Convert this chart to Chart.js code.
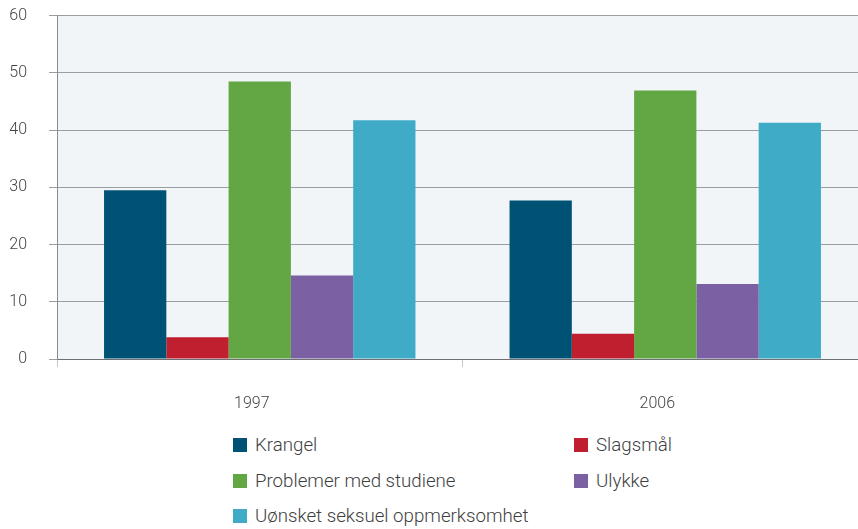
<!DOCTYPE html>
<html>
<head>
<meta charset="utf-8">
<script src="https://cdn.jsdelivr.net/npm/chart.js@4"></script>
<style>
    html, body { margin: 0; padding: 0; background: #fff; overflow: hidden; }
    #wrap { position: relative; width: 858px; height: 529px; overflow: hidden; }
    #box { position: absolute; left: 0; top: -16px; width: 868px; height: 436px; }
    #legend {
        position: absolute; left: 233px; top: 436px;
        display: grid; grid-template-columns: 341px 200px; grid-auto-rows: 35.5px;
        font-family: Roboto, "Noto Sans", sans-serif; font-size: 18.7px; font-weight: 300; color: #3e3e3e;
    }
    .item { display: flex; align-items: center; height: 18px; }
    .swatch { width: 14px; height: 14px; margin-right: 8px; flex: none; }
</style>
</head>
<body>
<div id="wrap">
    <div id="box"><canvas id="chart" width="868" height="436"></canvas></div>
    <div id="legend"></div>
</div>
<script>
const years = ["1997", "2006"];
const seriesNames = ["Krangel", "Slagsmål", "Problemer med studiene", "Ulykke", "Uønsket seksuel oppmerksomhet"];
const krangel = [29.5, 27.7];
const slagsmal = [3.8, 4.4];
const problemer = [48.5, 46.9];
const ulykke = [14.6, 13.1];
const uonsket = [41.7, 41.3];
const yTicks = [0, 10, 20, 30, 40, 50, 60];
const colors = ["#005274", "#C01F2F", "#62A744", "#7B61A4", "#3FABC6"];

const values = [krangel, slagsmal, problemer, ulykke, uonsket];

const plotBackground = {
    id: "plotBackground",
    beforeDraw(chart) {
        const { ctx, chartArea } = chart;
        ctx.save();
        ctx.fillStyle = "#F1F5F8";
        ctx.fillRect(chartArea.left, chartArea.top, chartArea.right - chartArea.left, chartArea.bottom - chartArea.top);
        ctx.restore();
    },
};

const tickFont = { family: "Roboto, 'Noto Sans', sans-serif", size: 16, weight: 300 };

const chart = new Chart(document.getElementById("chart").getContext("2d"), {
    type: "bar",
    data: {
        labels: years,
        datasets: seriesNames.map((name, i) => ({
            label: name,
            data: values[i],
            backgroundColor: colors[i],
            borderWidth: 0,
            barPercentage: 1,
            categoryPercentage: 0.768,
        })),
    },
    options: {
        responsive: false,
        animation: false,
        layout: { padding: { top: 0, left: 0, right: 0, bottom: 0 } },
        plugins: {
            legend: { display: false },
            tooltip: { enabled: false },
        },
        scales: {
            x: {
                offset: true,
                grid: {
                    offset: true,
                    drawOnChartArea: false,
                    tickLength: 8,
                    color: "#c4c6c8",
                },
                border: { color: "#6e7074", width: 1 },
                ticks: { font: tickFont, color: "#444", padding: 27, labelOffset: -8 },
                afterFit: (scale) => { scale.height = 61; },
            },
            y: {
                min: 0,
                max: 60,
                afterBuildTicks: (scale) => { scale.ticks = yTicks.map((v) => ({ value: v })); },
                grid: { color: "#9a9ea2", tickLength: 8 },
                border: { color: "#8a8c90", width: 1 },
                ticks: { font: tickFont, color: "#444", padding: 22 },
                afterFit: (scale) => { scale.width = 57; },
            },
        },
    },
    plugins: [plotBackground],
});

const legend = document.getElementById("legend");
chart.data.datasets.forEach((ds) => {
    const item = document.createElement("div");
    item.className = "item";
    const sw = document.createElement("span");
    sw.className = "swatch";
    sw.style.background = ds.backgroundColor;
    const label = document.createElement("span");
    label.textContent = ds.label;
    item.appendChild(sw);
    item.appendChild(label);
    legend.appendChild(item);
});
</script>
</body>
</html>
